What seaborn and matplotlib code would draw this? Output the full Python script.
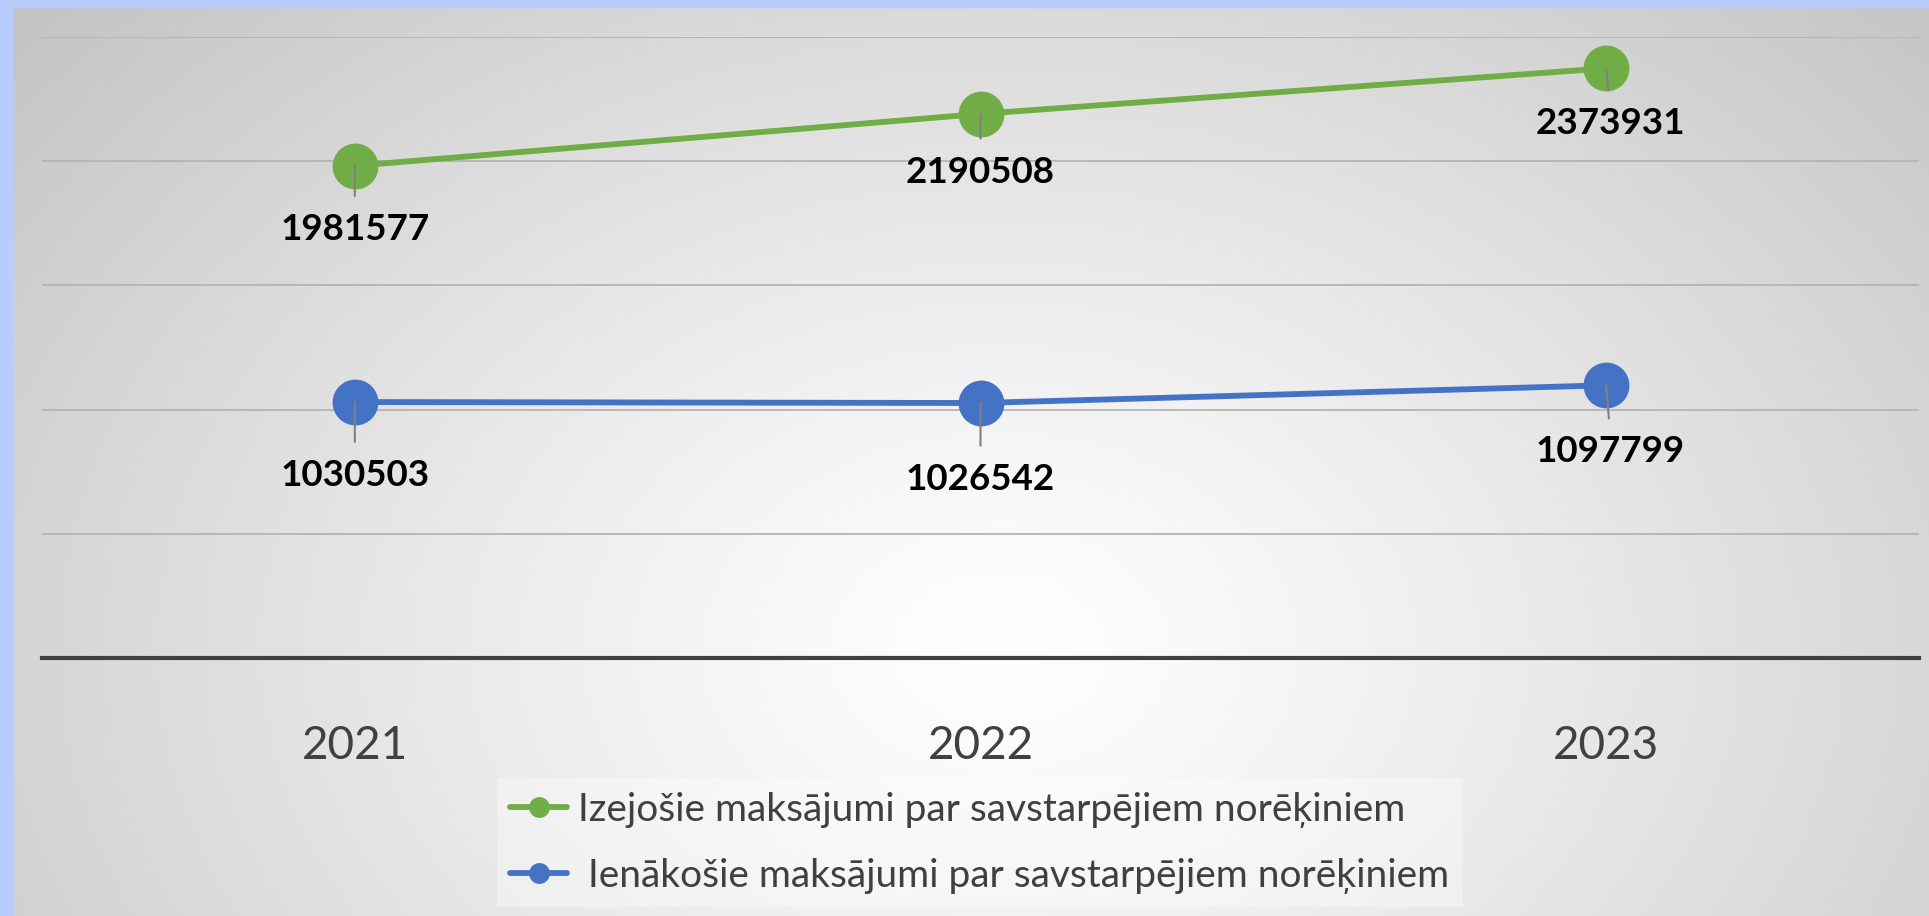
import numpy as np
import pandas as pd
import seaborn as sns
import matplotlib.pyplot as plt
from matplotlib.lines import Line2D
from matplotlib.patches import Rectangle

# datos del gráfico
anios = ["2021", "2022", "2023"]
izejosie = [1981577, 2190508, 2373931]
ienakosie = [1030503, 1026542, 1097799]
nombres = ["Izejošie maksājumi par savstarpējiem norēķiniem",
           " Ienākošie maksājumi par savstarpējiem norēķiniem"]
colores = ["#70AD47", "#4472C4"]

sns.set_theme(style="white")
plt.rcParams["font.family"] = ["Lato", "DejaVu Sans"]

df = pd.DataFrame({
    "pos": list(range(len(anios))) * 2,
    "valor": izejosie + ienakosie,
    "serie": [nombres[0]] * 3 + [nombres[1]] * 3,
})

fig = plt.figure(figsize=(19.29, 9.16), dpi=100)

# fondo con degradado radial
fondo = fig.add_axes([0, 0, 1, 1], zorder=-2)
gx, gy = np.meshgrid(np.linspace(0, 1929, 400), np.linspace(0, 916, 200))
dist = np.sqrt(((gx - 1000) / 1100) ** 2 + ((gy - 650) / 800) ** 2)
dist = np.clip(dist / dist.max(), 0, 1)
gris = 1.0 - 0.24 * dist ** 1.2
fondo.imshow(np.dstack([gris, gris, gris]), extent=[0, 1, 0, 1], aspect="auto",
             origin="upper")
fondo.axis("off")

# marco azul claro
fig.patches.append(Rectangle((0, 1 - 7 / 916), 1, 7 / 916, transform=fig.transFigure,
                             color="#B7CDFD", zorder=-1))
fig.patches.append(Rectangle((0, 0), 12 / 1929, 1, transform=fig.transFigure,
                             color="#B7CDFD", zorder=-1))

ax = fig.add_axes([42 / 1929, (916 - 658) / 916, 1877 / 1929, 621 / 916])
ax.set_facecolor("none")

sns.lineplot(data=df, x="pos", y="valor", hue="serie", palette=colores,
             marker="o", markersize=33, markeredgewidth=0, linewidth=4.2,
             legend=False, ax=ax, zorder=3)

ax.set_xlim(-0.5, 2.5)
ax.set_ylim(0, 2500000)
ax.set_xticks(range(len(anios)))
ax.set_xticklabels(anios)
ax.set_yticks(np.arange(500000, 2500001, 500000))
ax.tick_params(axis="x", length=0, pad=48, labelsize=33, labelcolor="#404040")
ax.tick_params(axis="y", left=False, labelleft=False)
ax.grid(axis="y", color="#B4B4B4", linewidth=1.3)
ax.set_xlabel("")
ax.set_ylabel("")
for lado in ["top", "right", "left"]:
    ax.spines[lado].set_visible(False)
ax.spines["bottom"].set_color("#404040")
ax.spines["bottom"].set_linewidth(3)

# etiquetas de datos con línea guía
desplaz = [[46, 42, 40], [53, 55, 48]]
for serie, vals in enumerate([izejosie, ienakosie]):
    for i, v in enumerate(vals):
        ax.annotate(f"{v}", xy=(i, v), xytext=(3 if i == 2 else 0, -desplaz[serie][i]),
                    textcoords="offset points", ha="center", va="center",
                    fontsize=26.5, fontweight="bold", color="black", zorder=5,
                    arrowprops=dict(arrowstyle="-", color="#808080", lw=1.5,
                                    relpos=(0.5, 1.0), shrinkA=10, shrinkB=0))

manejadores = [Line2D([0], [0], color=c, lw=4.2, marker="o", markersize=15,
                      markeredgewidth=0) for c in colores]
leg = fig.legend(manejadores, nombres, loc="center", bbox_to_anchor=(0.508, 0.08),
                 ncol=1, fontsize=28, frameon=True, handlelength=1.45,
                 handletextpad=0.3, labelspacing=0.78, borderpad=0.35)
leg.get_frame().set_facecolor("white")
leg.get_frame().set_alpha(0.35)
leg.get_frame().set_edgecolor("none")
leg.get_frame().set_boxstyle("square", pad=0)
for t in leg.get_texts():
    t.set_color("#404040")

fig.savefig("out.png", dpi=100)
